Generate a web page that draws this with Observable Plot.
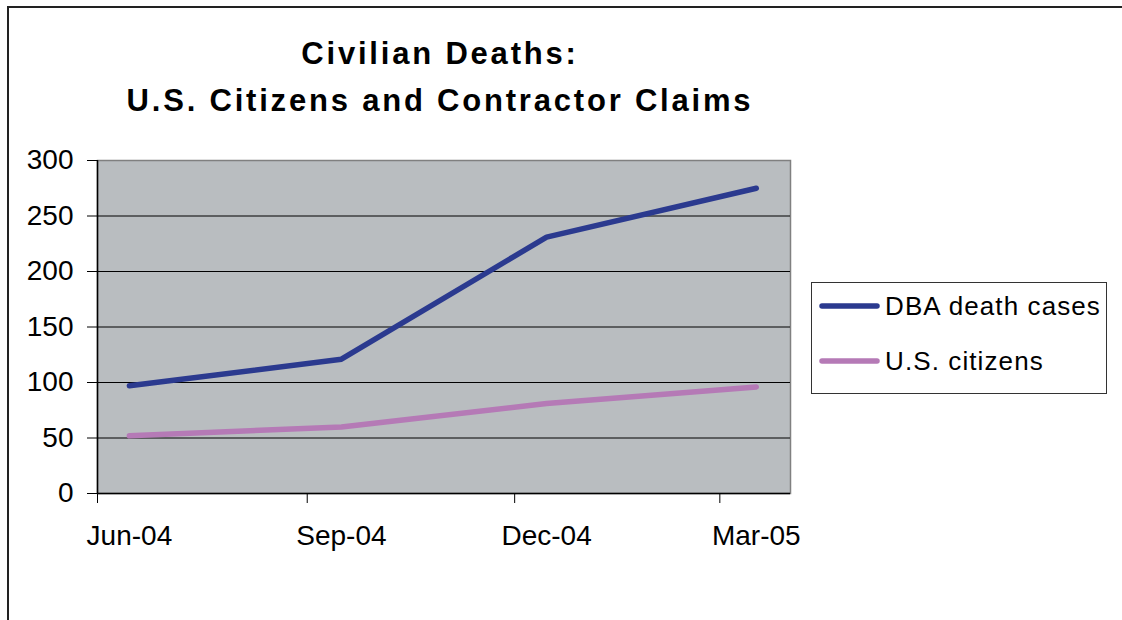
<!DOCTYPE html>
<html>
<head>
<meta charset="utf-8">
<script src="https://cdn.jsdelivr.net/npm/d3@7"></script>
<script src="https://cdn.jsdelivr.net/npm/@observablehq/plot@0.6"></script>
<style>
  html, body { margin: 0; padding: 0; background: #fff; }
  #wrap { position: relative; width: 1122px; height: 620px; overflow: hidden; font-family: "Liberation Sans", Arial, sans-serif; }
  #border { position: absolute; left: 7px; top: 6px; width: 1130px; height: 640px; border-left: 2px solid #222; border-top: 2px solid #222; }
  #title { position: absolute; left: 0; top: 30px; width: 880px; text-align: center; font-weight: bold; font-size: 31px; line-height: 47px; letter-spacing: 2.8px; color: #000; }
  #chart { position: absolute; left: 0; top: 0; }
  #legend { position: absolute; left: 0; top: 0; }
</style>
</head>
<body>
<div id="wrap">
  <div id="border"></div>
  <div id="chart"></div>
  <div id="title">Civilian Deaths:<br>U.S. Citizens and Contractor Claims</div>
  <div id="legend"></div>
</div>
<script>
// ---- data ----
const periods = ["2004-06-15", "2004-09-16", "2004-12-15", "2005-03-17"];
const dbaDeathCases = [97, 121, 231, 275];
const usCitizens = [52, 60, 81, 96];
const seriesNames = ["DBA death cases", "U.S. citizens"];
const seriesColors = ["#2B3A8F", "#B57AB6"];
const quarterTicks = ["2004-06-01", "2004-09-01", "2004-12-01", "2005-03-01"];
const yTicks = [0, 50, 100, 150, 200, 250, 300];
const xDomain = ["2004-06-01", "2005-04-01"];

const parse = d3.utcParse("%Y-%m-%d");
const dates = periods.map(parse);
const rows = [
  ...dates.map((d, i) => ({date: d, value: dbaDeathCases[i], series: seriesNames[0]})),
  ...dates.map((d, i) => ({date: d, value: usCitizens[i], series: seriesNames[1]}))
];

const chart = Plot.plot({
  width: 1122,
  height: 620,
  marginLeft: 97,
  marginTop: 160,
  marginRight: 332,
  marginBottom: 127,
  style: {fontFamily: "'Liberation Sans', Arial, sans-serif", fontSize: "28px", color: "#000", background: "transparent"},
  x: {type: "utc", domain: xDomain.map(parse)},
  y: {domain: [0, 300]},
  color: {domain: seriesNames, range: seriesColors},
  marks: [
    Plot.frame({fill: "#B9BDC0", stroke: "#808080", strokeWidth: 1.5}),
    Plot.gridY(yTicks.filter(t => t > 0 && t < 300), {stroke: "#000", strokeOpacity: 1, strokeWidth: 1}),
    Plot.ruleY([0], {stroke: "#000", strokeWidth: 1.5}),
    Plot.ruleX([parse(xDomain[0])], {stroke: "#000", strokeWidth: 1.5}),
    Plot.axisY(yTicks, {tickSize: 10, tickPadding: 14, fontSize: 28, label: null, stroke: "#000"}),
    Plot.axisX(quarterTicks.map(parse), {tickSize: 10, tickFormat: () => "", label: null, stroke: "#000"}),
    Plot.axisX(dates, {tickSize: 0, tickPadding: 32, fontSize: 28, tickFormat: d3.utcFormat("%b-%y"), label: null}),
    Plot.lineY(rows, {x: "date", y: "value", z: "series", stroke: "series", strokeWidth: 5.5, strokeLinecap: "round", strokeLinejoin: "round"})
  ]
});
document.getElementById("chart").appendChild(chart);

// ---- legend ----
const lg = d3.select("#legend").append("svg").attr("width", 1122).attr("height", 620);
lg.append("rect").attr("x", 811.5).attr("y", 282.5).attr("width", 295).attr("height", 111)
  .attr("fill", "#fff").attr("stroke", "#333").attr("stroke-width", 1);
seriesNames.forEach((name, i) => {
  const y = 306 + i * 55;
  lg.append("line").attr("x1", 822).attr("x2", 877).attr("y1", y).attr("y2", y)
    .attr("stroke", seriesColors[i]).attr("stroke-width", 5.5).attr("stroke-linecap", "round");
  lg.append("text").attr("x", 885).attr("y", y + 9).attr("font-size", 26).attr("letter-spacing", "1.1px")
    .attr("font-family", "'Liberation Sans', Arial, sans-serif").attr("fill", "#000").text(name);
});
</script>
</body>
</html>
